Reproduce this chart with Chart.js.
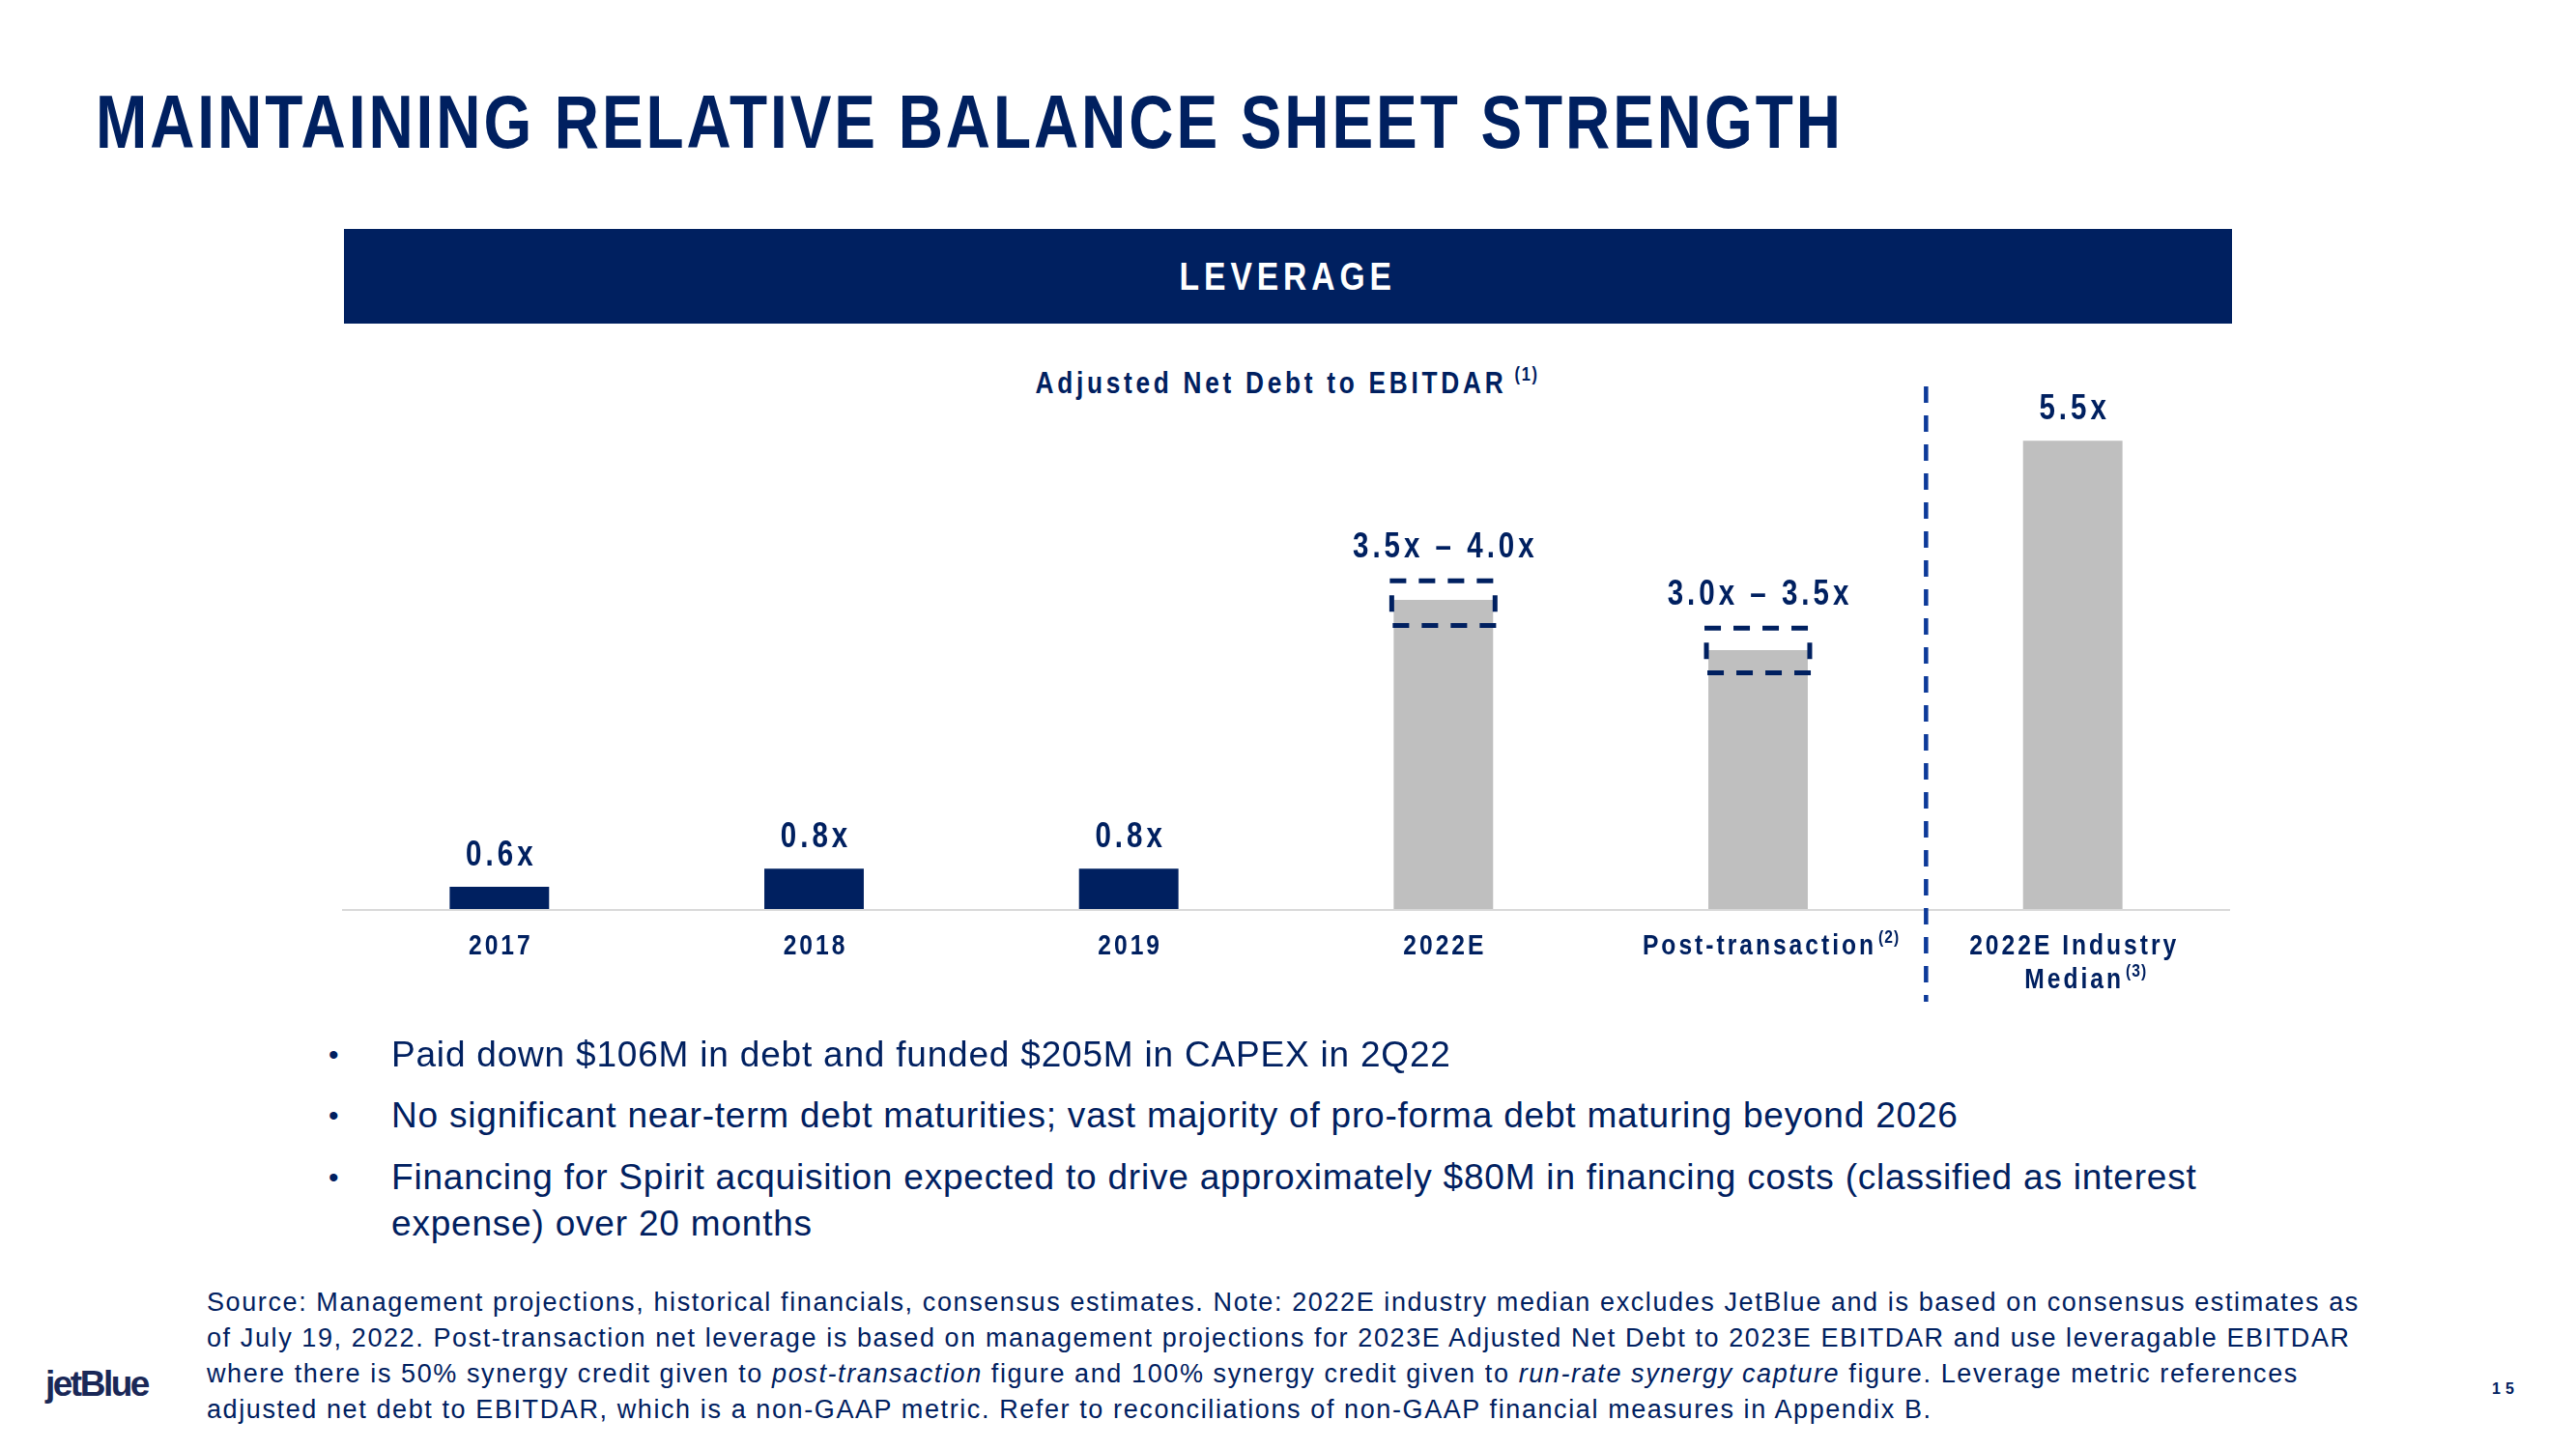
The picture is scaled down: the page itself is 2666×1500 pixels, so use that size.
<!DOCTYPE html>
<html>
<head>
<meta charset="utf-8">
<script src="https://cdn.jsdelivr.net/npm/chart.js@4.4.0/dist/chart.umd.min.js"></script>
<style>
  body { margin: 0; width: 2666px; height: 1500px; background: #fff; position: relative; overflow: hidden;
         font-family: "Liberation Sans", Arial, sans-serif; color: #002060; }
  .abs { position: absolute; white-space: nowrap; }
  .narrow { transform: scaleX(0.82); transform-origin: 0 0; }
  #title { left: 99px; top: 87px; font-size: 78px; line-height: 78px; font-weight: bold; letter-spacing: 3.6px; }
  #banner { left: 356px; top: 237px; width: 1954px; height: 98px; background: #002060;
            display: flex; align-items: center; justify-content: center; }
  #banner span { color: #fff; font-weight: bold; font-size: 41px; line-height: 41px; letter-spacing: 6px;
                 transform: scaleX(0.82); display: inline-block; }
  #subtitle { left: 355px; top: 380px; width: 1954px; text-align: center; font-size: 32px; line-height: 32px;
              font-weight: bold; letter-spacing: 4.55px; transform: scaleX(0.82); transform-origin: 50% 0; }
  #subtitle .sup { font-size: 20px; position: relative; top: -13px; letter-spacing: 2px; margin-left: 10px; }
  .dot { font-size: 30px; line-height: 48px; }
  .bullet { font-size: 37px; line-height: 48px; letter-spacing: 0.8px; }
  #foot { left: 214px; top: 1330px; font-size: 27px; line-height: 37px; letter-spacing: 1.6px; }
  #logo { left: 47px; top: 1414px; font-size: 37px; line-height: 37px; font-weight: bold; letter-spacing: -2.5px; color: #1a2857; }
  #page { left: 2579px; top: 1430px; font-size: 16px; line-height: 16px; font-weight: bold; letter-spacing: 5px; }
  #chart { position: absolute; left: 354px; top: 380px; }
</style>
</head>
<body>
<div id="title" class="abs narrow">MAINTAINING RELATIVE BALANCE SHEET STRENGTH</div>
<div id="banner" class="abs"><span>LEVERAGE</span></div>
<div id="subtitle" class="abs">Adjusted Net Debt to EBITDAR<span class="sup">(1)</span></div>

<canvas id="chart" width="1954" height="700"></canvas>

<div class="abs dot" style="left:340px; top:1068px;">•</div>
<div class="abs bullet" style="left:405px; top:1068px;">Paid down $106M in debt and funded $205M in CAPEX in 2Q22</div>
<div class="abs dot" style="left:340px; top:1131px;">•</div>
<div class="abs bullet" style="left:405px; top:1131px;">No significant near-term debt maturities; vast majority of pro-forma debt maturing beyond 2026</div>
<div class="abs dot" style="left:340px; top:1195px;">•</div>
<div class="abs bullet" style="left:405px; top:1195px;">Financing for Spirit acquisition expected to drive approximately $80M in financing costs (classified as interest<br>expense) over 20 months</div>

<div id="foot" class="abs">Source: Management projections, historical financials, consensus estimates. Note: 2022E industry median excludes JetBlue and is based on consensus estimates as<br>of July 19, 2022. Post-transaction net leverage is based on management projections for 2023E Adjusted Net Debt to 2023E EBITDAR and use leveragable EBITDAR<br>where there is 50% synergy credit given to <i>post-transaction</i> figure and 100% synergy credit given to <i>run-rate synergy capture</i> figure. Leverage metric references<br>adjusted net debt to EBITDAR, which is a non-GAAP metric. Refer to reconciliations of non-GAAP financial measures in Appendix B.</div>
<div id="logo" class="abs">jetBlue</div>
<div id="page" class="abs">15</div>

<script>
// data
var categories = ['2017', '2018', '2019', '2022E', 'Post-transaction', '2022E Industry Median'];
var tickLines = [['2017'], ['2018'], ['2019'], ['2022E'], ['Post-transaction'], ['2022E Industry', 'Median']];
var tickNotes = ['', '', '', '', '(2)', '(3)'];
var leverage = [0.6, 0.8, 0.8, 3.75, 3.2, 5.5];
var rangeLow = [null, null, null, 3.47, 2.95, null];
var rangeHigh = [null, null, null, 3.96, 3.44, null];
var valueLabels = ['0.6x', '0.8x', '0.8x', '3.5x \u2013 4.0x', '3.0x \u2013 3.5x', '5.5x'];
var yMin = 0.356, yMax = 6;

var NAVY = '#002060';
var GREY = '#BFBFBF';
var barColors = [NAVY, NAVY, NAVY, GREY, GREY, GREY];
var NARROW = 0.82;
var FONT = '"Liberation Sans", Arial, sans-serif';

// condensed text with letter spacing, returns drawn width
function narrowText(ctx, text, x, y, size, spacing, align) {
    ctx.save();
    ctx.font = 'bold ' + size + 'px ' + FONT;
    ctx.letterSpacing = (spacing / NARROW) + 'px';
    var w = ctx.measureText(text).width - spacing / NARROW;
    ctx.translate(x, y);
    ctx.scale(NARROW, 1);
    var sx = 0;
    if (align === 'center') sx = -w / 2;
    if (align === 'right') sx = -w;
    ctx.textAlign = 'left';
    ctx.textBaseline = 'alphabetic';
    ctx.fillStyle = NAVY;
    ctx.fillText(text, sx, 0);
    ctx.restore();
    return w * NARROW;
}

var extras = {
    id: 'extras',
    beforeDatasetsDraw: function(chart) {
        var ctx = chart.ctx, a = chart.chartArea;
        ctx.save();
        ctx.strokeStyle = '#D9D9D9';
        ctx.lineWidth = 2;
        ctx.beginPath();
        ctx.moveTo(a.left, a.bottom + 1);
        ctx.lineTo(a.right, a.bottom + 1);
        ctx.stroke();
        ctx.restore();
    },
    afterDatasetsDraw: function(chart) {
        var ctx = chart.ctx, a = chart.chartArea, y = chart.scales.y;
        var bars = chart.getDatasetMeta(0).data;

        bars.forEach(function(bar, i) {
            var top = bar.y;
            if (rangeHigh[i] != null) {
                var half = bar.width / 2 + 4;
                var yt = y.getPixelForValue(rangeHigh[i]);
                var yb = y.getPixelForValue(rangeLow[i]);
                ctx.save();
                ctx.strokeStyle = NAVY;
                ctx.lineWidth = 5;
                ctx.setLineDash([17, 13]);
                ctx.beginPath();
                ctx.moveTo(bar.x - half, yt); ctx.lineTo(bar.x + half, yt);
                ctx.moveTo(bar.x - half + 3, yb); ctx.lineTo(bar.x + half + 3, yb);
                ctx.stroke();
                ctx.setLineDash([0, 15, 17, 60]);
                ctx.beginPath();
                ctx.moveTo(bar.x - half + 2, yt); ctx.lineTo(bar.x - half + 2, yb);
                ctx.moveTo(bar.x + half - 2, yt); ctx.lineTo(bar.x + half - 2, yb);
                ctx.stroke();
                ctx.restore();
                top = Math.min(top, yt - 2);
            }
            narrowText(ctx, valueLabels[i], bar.x, top - 22, 36, 4, 'center');

            // category labels
            var lines = tickLines[i];
            lines.forEach(function(line, k) {
                var by = a.bottom + 47 + k * 35;
                var w = narrowText(ctx, line, bar.x, by, 30, 3, 'center');
                if (k === lines.length - 1 && tickNotes[i]) {
                    narrowText(ctx, tickNotes[i], bar.x + w / 2 + 5, by - 12, 19, 1, 'left');
                }
            });
        });

        // dashed divider before the industry median
        var sx = (bars[4].x + bars[5].x) / 2 + 11;
        ctx.save();
        ctx.strokeStyle = '#0D3A99';
        ctx.lineWidth = 4.5;
        ctx.setLineDash([17, 13]);
        ctx.beginPath();
        ctx.moveTo(sx, a.top - 9);
        ctx.lineTo(sx, a.bottom + 96);
        ctx.stroke();
        ctx.restore();
    }
};

new Chart(document.getElementById('chart'), {
    type: 'bar',
    data: {
        labels: categories,
        datasets: [{
            data: leverage,
            base: yMin,
            backgroundColor: barColors,
            borderWidth: 0,
            barPercentage: 0.316,
            categoryPercentage: 1
        }]
    },
    options: {
        responsive: false,
        animation: false,
        layout: { padding: { top: 29, bottom: 139, left: 0, right: 0 } },
        plugins: { legend: { display: false }, tooltip: { enabled: false } },
        scales: {
            x: { display: false },
            y: { display: false, min: yMin, max: yMax }
        }
    },
    plugins: [extras]
});
</script>
</body>
</html>
